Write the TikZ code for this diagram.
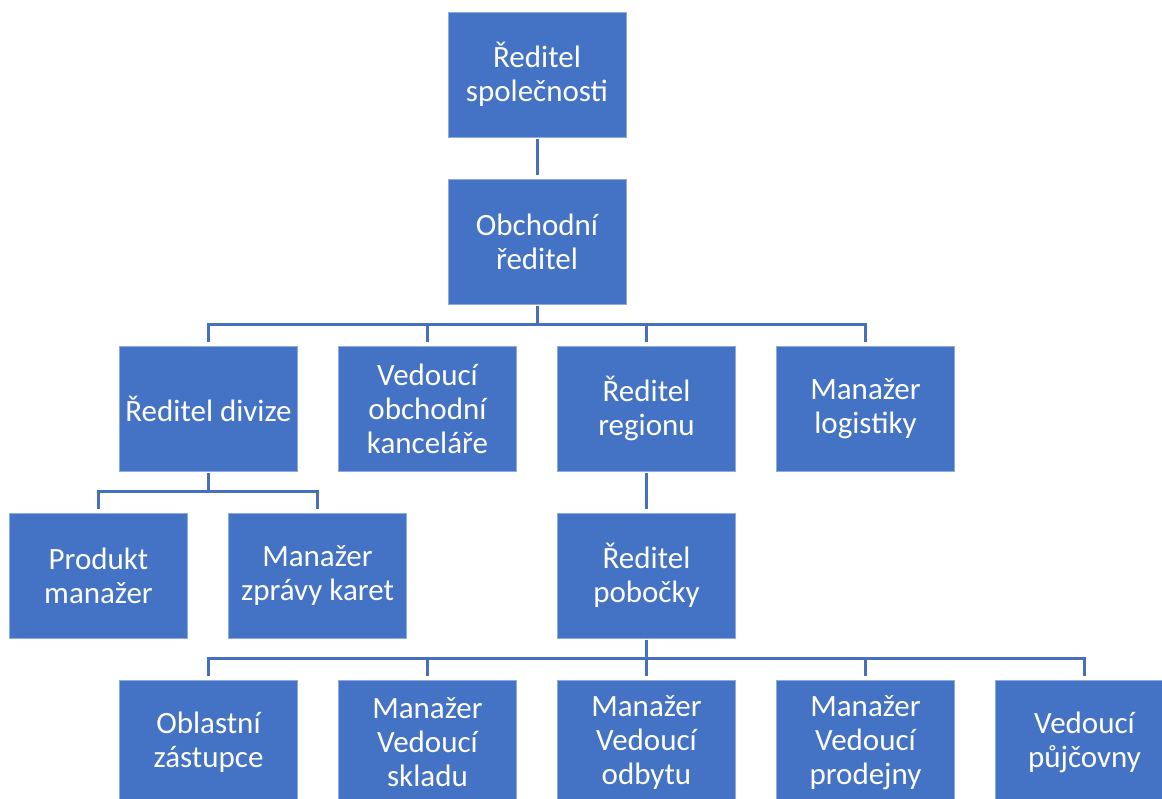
\documentclass[tikz,border=0pt]{standalone}
\usepackage{fontspec}
\setmainfont{Carlito}
\usetikzlibrary{positioning}
\definecolor{office}{HTML}{4472C4}
\definecolor{wire}{HTML}{4670BE}

\begin{document}
\begin{tikzpicture}[x=1pt,y=1pt,
 node distance=42pt and 41pt,
 unit/.style={rectangle,draw=office!60!white,line width=0.6pt,fill=office,text=white,minimum width=178pt,minimum height=125pt,inner sep=0pt,outer sep=0pt,align=center,font=\fontsize{31}{34}\selectfont},
 link/.style={draw=wire,line width=3pt,shorten <=2pt,shorten >=4pt}
]
\clip (0,0) rectangle (1162,798);
\node[unit] (ceo) at (537,723.5) {Ředitel\\společnosti};
\node[unit,below=of ceo] (obch) {Obchodní\\ředitel};
\node[unit,below=of obch,xshift=-109.5pt] (vok) {Vedoucí\\obchodní\\kanceláře};
\node[unit,left=of vok] (rdiv) {Ředitel divize};
\node[unit,right=of vok] (rreg) {Ředitel\\regionu};
\node[unit,right=of rreg] (mlog) {Manažer\\logistiky};
\node[unit,below=of rdiv,xshift=-110pt] (prod) {Produkt\\manažer};
\node[unit,right=of prod] (mzk) {Manažer\\zprávy karet};
\node[unit,below=of rreg] (rpob) {Ředitel\\pobočky};
\node[unit,below=of rpob] (modb) {Manažer\\Vedoucí\\odbytu};
\node[unit,left=of modb] (mskl) {Manažer\\Vedoucí\\skladu};
\node[unit,left=of mskl] (obl) {Oblastní\\zástupce};
\node[unit,right=of modb] (mprd) {Manažer\\Vedoucí\\prodejny};
\node[unit,right=of mprd] (vpuj) {Vedoucí\\půjčovny};
\draw[link] (ceo) -- (obch);
\foreach \c in {rdiv,vok,rreg,mlog}
  \draw[link] (obch.south) -- ++(0,-21) -| (\c.north);
\foreach \c in {prod,mzk}
  \draw[link] (rdiv.south) -- ++(0,-21) -| (\c.north);
\draw[link] (rreg) -- (rpob);
\foreach \c in {obl,mskl,modb,mprd,vpuj}
  \draw[link] (rpob.south) -- ++(0,-21) -| (\c.north);
\end{tikzpicture}
\end{document}
